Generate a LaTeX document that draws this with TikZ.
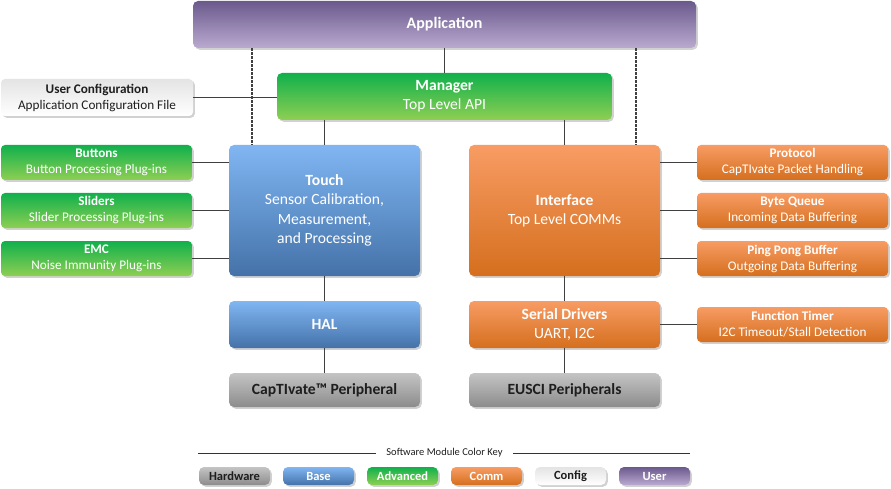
\documentclass[tikz,border=0pt]{standalone}
\usepackage{fontspec}
\setmainfont{Carlito}
\usetikzlibrary{shadows}
\definecolor{purT}{RGB}{106,89,140}
\definecolor{purB}{RGB}{186,170,208}
\definecolor{grnT}{RGB}{16,176,76}
\definecolor{grnB}{RGB}{142,207,82}
\definecolor{bluT}{RGB}{128,182,243}
\definecolor{bluB}{RGB}{68,114,168}
\definecolor{orgT}{RGB}{248,156,100}
\definecolor{orgB}{RGB}{213,111,30}
\definecolor{hwT}{RGB}{196,196,196}
\definecolor{hwB}{RGB}{140,140,140}
\definecolor{cfT}{RGB}{228,228,228}
\definecolor{cfB}{RGB}{255,255,255}
\definecolor{lineC}{RGB}{64,64,64}
\definecolor{darkT}{RGB}{30,30,30}
\tikzset{
  box/.style={rectangle, rounded corners=5pt, inner sep=0pt, align=center,
    drop shadow={shadow xshift=1.8pt, shadow yshift=-1.8pt, fill=black, opacity=0.18}},
  user/.style={box, top color=purT, bottom color=purB, text=white},
  adv/.style={box, top color=grnT, bottom color=grnB, text=white},
  base/.style={box, top color=bluT, bottom color=bluB, text=white},
  comm/.style={box, top color=orgT, bottom color=orgB, text=white},
  hw/.style={box, top color=hwT, bottom color=hwB, text=darkT},
  cfg/.style={box, top color=cfT, bottom color=cfB, text=darkT},
  big/.style={font=\fontsize{15.6}{19.3}\selectfont},
  small/.style={font=\fontsize{13.2}{16}\selectfont, minimum width=191pt, minimum height=35pt, rounded corners=4pt},
  keyb/.style={font=\fontsize{12.5}{14}\selectfont\bfseries, minimum width=71pt, minimum height=18pt, rounded corners=5pt},
  conn/.style={draw=lineC, line width=1.5pt},
  dconn/.style={draw=lineC, line width=1.5pt, dash pattern=on 2.2pt off 1.8pt},
}
\begin{document}
\begin{tikzpicture}[x=1pt,y=-1pt]
\useasboundingbox (0,0) rectangle (891,489);
% main blocks
\node[user, big, minimum width=503pt, minimum height=47pt] (app) at (444.5,24.5) {\bfseries\fontsize{16}{19}\selectfont Application};
\node[adv, big, minimum width=335pt, minimum height=47pt] (mgr) at (444.5,96.5) {\bfseries Manager\\Top Level API};
\node[cfg, small, minimum width=192pt, minimum height=37pt] (ucfg) at (97,97.5) {\bfseries User Configuration\\Application Configuration File};
\node[base, big, minimum width=191pt, minimum height=131pt] (touch) at (324.5,210.5) {\bfseries Touch\\Sensor Calibration,\\Measurement,\\and Processing};
\node[comm, big, minimum width=191pt, minimum height=131pt] (iface) at (564.5,210.5) {\bfseries Interface\\Top Level COMMs};
% left plug-ins
\node[adv, small] (buttons) at (96.5,162.5) {\bfseries Buttons\\Button Processing Plug-ins};
\node[adv, small] (sliders) at (96.5,210.5) {\bfseries Sliders\\Slider Processing Plug-ins};
\node[adv, small] (emc) at (96.5,258.5) {\bfseries EMC\\Noise Immunity Plug-ins};
% right modules
\node[comm, small] (proto) at (792.5,162.5) {\bfseries Protocol\\CapTIvate Packet Handling};
\node[comm, small] (bq) at (792.5,210.5) {\bfseries Byte Queue\\Incoming Data Buffering};
\node[comm, small] (pp) at (792.5,258.5) {\bfseries Ping Pong Buffer\\Outgoing Data Buffering};
\node[comm, small] (ft) at (792.5,324.5) {\bfseries Function Timer\\I2C Timeout/Stall Detection};
% lower blocks
\node[base, big, minimum width=191pt, minimum height=47pt] (hal) at (324.5,324.5) {\bfseries HAL};
\node[comm, big, minimum width=191pt, minimum height=47pt] (serial) at (564.5,324.5) {\bfseries Serial Drivers\\UART, I2C};
\node[hw, big, minimum width=191pt, minimum height=34pt] (cap) at (324.5,390) {\bfseries CapTIvate™ Peripheral};
\node[hw, big, minimum width=191pt, minimum height=34pt] (eusci) at (564.5,390) {\bfseries EUSCI Peripherals};
% connectors
\draw[conn] (app.south) -- (mgr.north);
\draw[conn] (ucfg.east) -- (ucfg.east -| mgr.west);
\draw[conn] (touch.north |- mgr.south) -- (touch.north);
\draw[conn] (iface.north |- mgr.south) -- (iface.north);
\coordinate (dl) at (252,48.5);
\coordinate (dr) at (636,48.5);
\draw[dconn] (dl) -- (dl |- touch.north);
\draw[dconn] (dr) -- (dr |- iface.north);
\draw[conn] (buttons.east) -- (buttons.east -| touch.west);
\draw[conn] (sliders.east) -- (sliders.east -| touch.west);
\draw[conn] (emc.east) -- (emc.east -| touch.west);
\draw[conn] (proto.west -| iface.east) -- (proto.west);
\draw[conn] (bq.west -| iface.east) -- (bq.west);
\draw[conn] (pp.west -| iface.east) -- (pp.west);
\draw[conn] (touch.south) -- (hal.north);
\draw[conn] (hal.south) -- (cap.north);
\draw[conn] (iface.south) -- (serial.north);
\draw[conn] (serial.south) -- (eusci.north);
\draw[conn] (serial.east) -- (ft.west);
% color key
\node[font=\fontsize{10.5}{12}\selectfont, text=darkT, inner sep=0pt] (keyt) at (444.5,453) {Software Module Color Key};
\coordinate (kl) at (198,453);
\coordinate (kr) at (690,453);
\draw[draw=black!80, line width=0.8pt] (kl) -- ([xshift=-10pt]keyt.west);
\draw[draw=black!80, line width=0.8pt] ([xshift=10pt]keyt.east) -- (kr);
\node[hw, keyb] (k1) at (234.5,476) {Hardware};
\node[base, keyb] (k2) at (318.5,476) {Base};
\node[adv, keyb] (k3) at (402.5,476) {Advanced};
\node[comm, keyb] (k4) at (486.5,476) {Comm};
\node[cfg, keyb] (k5) at (570.5,476) {Config};
\node[user, keyb] (k6) at (654.5,476) {User};
\end{tikzpicture}
\end{document}
